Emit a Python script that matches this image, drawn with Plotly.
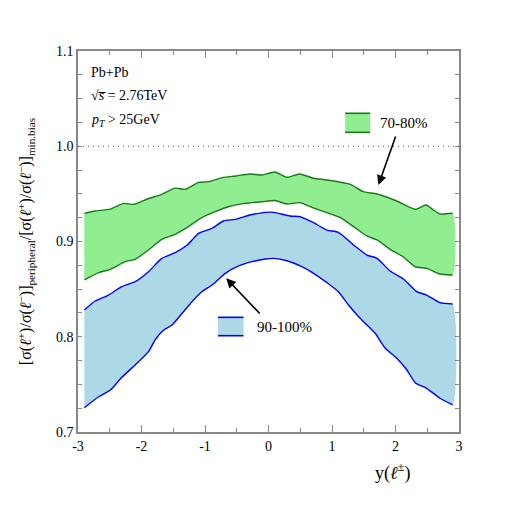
import plotly.graph_objects as go

# 70-80% band
g_up_x = [-2.9, -2.73, -2.49, -2.28, -2.12, -1.91, -1.68, -1.47, -1.31, -1.10, -0.94, -0.73, -0.52, -0.29, -0.10, 0.10,
          0.29, 0.49, 0.71, 0.92, 1.29, 1.49, 1.71, 2.02, 2.31, 2.48, 2.60, 2.70, 2.90]
g_up_y = [0.9296, 0.932, 0.934, 0.940, 0.939, 0.9446, 0.9495, 0.956, 0.9548, 0.962, 0.9628, 0.967, 0.9688, 0.9709,
          0.9698, 0.973, 0.9674, 0.9709, 0.9664, 0.9646, 0.960, 0.9523, 0.9499, 0.9425, 0.9338, 0.9383, 0.933,
          0.9289, 0.9296]
g_lo_x = [-2.9, -2.675, -2.49, -2.255, -2.10, -1.89, -1.68, -1.47, -1.26, -1.07, -0.84, -0.63, -0.37, -0.10, 0.10,
          0.29, 0.49, 0.71, 0.92, 1.13, 1.34, 1.55, 1.71, 1.915, 2.12, 2.31, 2.49, 2.70, 2.90]
g_lo_y = [0.8596, 0.8673, 0.8708, 0.8788, 0.8813, 0.8911, 0.9023, 0.9076, 0.9156, 0.9243, 0.9313, 0.9365, 0.940,
          0.9418, 0.9430, 0.9394, 0.9408, 0.9352, 0.9303, 0.925, 0.9156, 0.9058, 0.9016, 0.8918, 0.884, 0.8735,
          0.8718, 0.8659, 0.8648]

# 90-100% band
b_up_x = [-2.9, -2.73, -2.52, -2.31, -2.10, -1.89, -1.68, -1.47, -1.28, -1.10, -0.89, -0.71, -0.52, -0.29, -0.05, 0.08,
          0.34, 0.50, 0.71, 0.92, 1.10, 1.34, 1.55, 1.71, 1.915, 2.13, 2.335, 2.49, 2.70, 2.90]
b_up_y = [0.828, 0.8375, 0.8438, 0.8526, 0.8578, 0.8683, 0.8823, 0.8882, 0.8963, 0.9086, 0.9138, 0.9215, 0.9233,
          0.9278, 0.9306, 0.9306, 0.9268, 0.926, 0.9197, 0.912, 0.9096, 0.8963, 0.8858, 0.8823, 0.869, 0.8603,
          0.8473, 0.8438, 0.8358, 0.8344]
b_lo_x = [-2.9, -2.675, -2.49, -2.31, -2.10, -1.89, -1.78, -1.65, -1.52, -1.36, -1.205, -1.05, -0.89, -0.68, -0.47,
          -0.26, -0.05, 0.08, 0.29, 0.50, 0.71, 0.92, 1.10, 1.26, 1.42, 1.55, 1.68, 1.84, 2.02, 2.18, 2.31, 2.49,
          2.70, 2.90]
b_lo_y = [0.7255, 0.737, 0.7441, 0.7574, 0.7703, 0.7843, 0.7973, 0.8071, 0.8123, 0.8246, 0.8368, 0.8473, 0.8543,
          0.8666, 0.8743, 0.8788, 0.8816, 0.8823, 0.8798, 0.8743, 0.8666, 0.8568, 0.8473, 0.8333, 0.8211, 0.8123,
          0.8036, 0.7879, 0.7774, 0.7651, 0.7518, 0.7459, 0.7354, 0.7284]

x_ticks = [-3, -2, -1, 0, 1, 2, 3]
y_ticks = [0.7, 0.8, 0.9, 1.0, 1.1]

GREEN_FILL = "#90EE90"
GREEN_LINE = "#1a7a1a"
BLUE_FILL = "#ADD8E6"
BLUE_LINE = "#0000FF"
FONT = '"Liberation Serif", "Times New Roman", Times, serif'

fig = go.Figure()


def band(xu, yu, xl, yl, fill, line):
    fig.add_trace(go.Scatter(x=xu + xl[::-1], y=yu + yl[::-1], fill="toself", fillcolor=fill,
                             line=dict(width=0, shape="spline", smoothing=0.6), mode="lines",
                             hoverinfo="skip", showlegend=False))
    for xx, yy in ((xu, yu), (xl, yl)):
        fig.add_trace(go.Scatter(x=xx, y=yy, mode="lines",
                                 line=dict(color=line, width=1.4, shape="spline", smoothing=0.6),
                                 showlegend=False))


band(g_up_x, g_up_y, g_lo_x, g_lo_y, GREEN_FILL, GREEN_LINE)
band(b_up_x, b_up_y, b_lo_x, b_lo_y, BLUE_FILL, BLUE_LINE)

# dotted reference line
fig.add_shape(type="line", x0=-3, x1=3, y0=1.0, y1=1.0, line=dict(color="#555555", width=1, dash="1px,4px"))

# legend boxes
for (x0, x1, y0, y1, fc, lc) in [(1.207, 1.601, 1.0146, 1.0346, GREEN_FILL, GREEN_LINE),
                                 (-0.796, -0.393, 0.8011, 0.8204, BLUE_FILL, BLUE_LINE)]:
    fig.add_shape(type="rect", x0=x0, x1=x1, y0=y0, y1=y1, fillcolor=fc, line=dict(width=0), layer="above")
    fig.add_shape(type="line", x0=x0, x1=x1, y0=y0, y1=y0, line=dict(color=lc, width=1.6))
    fig.add_shape(type="line", x0=x0, x1=x1, y0=y1, y1=y1, line=dict(color=lc, width=1.6))

fig.add_annotation(x=1.72, y=1.0246, text="70-80%", showarrow=False, xanchor="left", yanchor="middle",
                   font=dict(family=FONT, size=15, color="black"))
fig.add_annotation(x=-0.21, y=0.8107, text="90-100%", showarrow=False, xanchor="left", yanchor="middle",
                   font=dict(family=FONT, size=15, color="black"))

# arrows
fig.add_annotation(x=1.731, y=0.9593, ax=2.01, ay=1.0118, axref="x", ayref="y", text="", showarrow=True,
                   arrowhead=2, arrowsize=1.2, arrowwidth=1.6, arrowcolor="black")
fig.add_annotation(x=-0.666, y=0.8614, ax=-0.115, ay=0.8228, axref="x", ayref="y", text="", showarrow=True,
                   arrowhead=2, arrowsize=1.2, arrowwidth=1.6, arrowcolor="black")

# info text
for yy, txt in [(1.0777, "Pb+Pb"), (1.0535, "√<i>s̅</i> = 2.76TeV"), (1.0273, "<i>p<sub>T</sub></i> > 25GeV")]:
    fig.add_annotation(x=-2.83, y=yy, text=txt, showarrow=False, xanchor="left", yanchor="middle",
                       font=dict(family=FONT, size=14, color="black"))

# x axis title
fig.add_annotation(x=2.26, y=0.7, yshift=-26, text="y(<i>ℓ</i><sup>±</sup>)", showarrow=False,
                   xanchor="right", yanchor="top", font=dict(family=FONT, size=18, color="black"))

axis_common = dict(showline=True, linecolor="#888888", linewidth=1.5, mirror="ticks", ticks="inside",
                   tickcolor="#888888", showgrid=False, zeroline=False,
                   tickfont=dict(family=FONT, size=14, color="black"))

fig.update_xaxes(range=[-3, 3], tickvals=x_ticks, ticktext=[str(v) for v in x_ticks], ticklen=7, tickwidth=1,
                 minor=dict(dtick=0.5, ticks="inside", ticklen=4, tickcolor="#888888", showgrid=False),
                 **axis_common)
fig.update_yaxes(range=[0.7, 1.1], tickvals=y_ticks, ticktext=[f"{v:.1f}" for v in y_ticks], ticklen=4,
                 tickwidth=1,
                 minor=dict(dtick=0.025, tick0=0.7, ticks="inside", ticklen=4, tickcolor="#888888", showgrid=False),
                 title=dict(text="[σ(<i>ℓ</i><sup>+</sup>)/σ(<i>ℓ</i><sup>−</sup>)]<sub>peripheral</sub>/"
                                 "[σ(<i>ℓ</i><sup>+</sup>)/σ(<i>ℓ</i><sup>−</sup>)]<sub>min.bias</sub>",
                            font=dict(family=FONT, size=16, color="black"), standoff=20),
                 **axis_common)

# page body has an 8px offset; margins compensate so the plot area lands at 78..459 x 51..432
fig.update_layout(width=510, height=510, margin=dict(l=70, r=59, t=43, b=86), plot_bgcolor="white",
                  paper_bgcolor="white", showlegend=False)

fig.write_html("out.html")
